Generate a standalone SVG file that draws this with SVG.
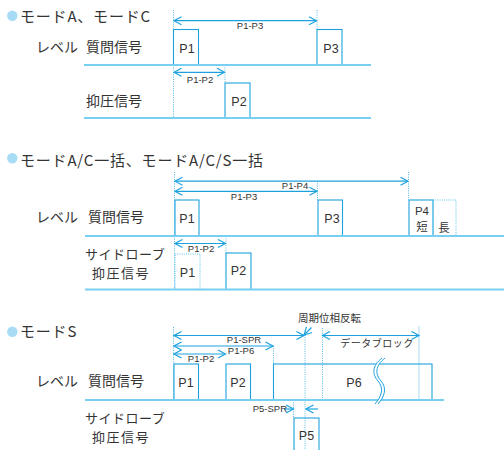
<svg xmlns="http://www.w3.org/2000/svg" width="504" height="450" viewBox="0 0 504 450">
<defs>
<marker id="ah" viewBox="-1 -5 10 10" refX="7.5" refY="0" markerWidth="10" markerHeight="10" markerUnits="userSpaceOnUse" orient="auto-start-reverse">
<path d="M0,-4 L7.5,0 L0,4" fill="none" stroke="#1ea2df" stroke-width="1.2"/>
</marker>
</defs>
<style>
.jp{font-family:"Noto Sans CJK JP","Noto Sans",sans-serif;fill:#333;}
.ttl{font-size:15px;letter-spacing:0.8px;}
.lbl{font-size:14px;}
.lbs{font-size:13px;letter-spacing:0.5px;}
.lbs2{font-size:13px;letter-spacing:1.5px;}
.p{font-family:"Liberation Sans",Arial,sans-serif;font-size:12.5px;fill:#333;text-anchor:middle;}
.al{font-family:"Liberation Sans",Arial,sans-serif;font-size:9.5px;fill:#333;text-anchor:middle;}
.box{fill:none;stroke:#1ea2df;stroke-width:1.1;}
.dbox{fill:none;stroke:#5cc3ee;stroke-width:1;stroke-dasharray:1 1.2;}
.lvl{fill:none;stroke:#78cff2;stroke-width:1.8;}
.dot{fill:none;stroke:#3fb2e6;stroke-width:0.9;stroke-dasharray:1 1.3;}
.arr{fill:none;stroke:#1ea2df;stroke-width:1.2;}
.bul{fill:#a8dcf6;}
</style>

<g id="connectors">
<!-- section 1 -->
<path class="dot" d="M173.5,10 V118 M317,10 V30 M225,65 V83"/>
<path class="arr" d="M174,20.7 H316.5" marker-start="url(#ah)" marker-end="url(#ah)"/>
<path class="arr" d="M174,72.3 H224.5" marker-start="url(#ah)" marker-end="url(#ah)"/>
<!-- section 2 -->
<path class="dot" d="M174.5,172 V290 M408.5,172 V200 M317.5,181 V200 M226,236 V253"/>
<path class="arr" d="M175,181.2 H408" marker-start="url(#ah)" marker-end="url(#ah)"/>
<path class="arr" d="M175,191.3 H317" marker-start="url(#ah)" marker-end="url(#ah)"/>
<path class="arr" d="M175,243.5 H225.5" marker-start="url(#ah)" marker-end="url(#ah)"/>
<!-- section 3 -->
<path class="dot" d="M173.5,327 V400 M305,335 V450 M322.5,328 V400 M273.5,346 V364 M293.5,400 V418"/>
<path d="M419,326 V400" fill="none" stroke="#8fd6f3" stroke-width="0.8"/>
<path class="arr" d="M174,335.5 H304" marker-start="url(#ah)" marker-end="url(#ah)"/>
<path class="arr" d="M174,346 H273" marker-start="url(#ah)" marker-end="url(#ah)"/>
<path class="arr" d="M174,354 H225.5" marker-start="url(#ah)" marker-end="url(#ah)"/>
<path class="arr" d="M322.5,335.5 H419" marker-start="url(#ah)" marker-end="url(#ah)"/>
<path class="arr" d="M311.5,327.5 L304,335" marker-end="url(#ah)"/>
<path class="arr" d="M284,409 H293.5" marker-end="url(#ah)"/>
<path class="arr" d="M318,409 H306" marker-end="url(#ah)"/>
</g>

<g id="section1">
<circle class="bul" cx="12.3" cy="15.8" r="5.2"/>
<text class="jp ttl" x="20" y="21.5">モードA、モードC</text>
<text class="jp lbl" x="36" y="52">レベル</text>
<text class="jp lbl" x="86" y="52">質問信号</text>
<text class="jp lbl" x="86" y="106">抑圧信号</text>
<text class="al" x="250" y="29.3">P1-P3</text>
<text class="al" x="200" y="82.5">P1-P2</text>
<g id="s1-p1"><rect class="box" x="173.5" y="29.5" width="25" height="35.5"/><text class="p" x="187" y="52.5">P1</text></g>
<g id="s1-p3"><rect class="box" x="317" y="29.5" width="25" height="35.5"/><text class="p" x="331" y="52.5">P3</text></g>
<g id="s1-p2"><rect class="box" x="225" y="83" width="25" height="35"/><text class="p" x="239" y="106">P2</text></g>
<path class="lvl" d="M84,65 H371 M84,118 H371"/>
</g>

<g id="section2">
<circle class="bul" cx="12.3" cy="158.3" r="5.2"/>
<text class="jp ttl" x="20" y="166">モードA/C一括、モードA/C/S一括</text>
<text class="jp lbl" x="36" y="222">レベル</text>
<text class="jp lbl" x="88" y="222">質問信号</text>
<text class="jp lbs" x="85" y="259">サイドローブ</text>
<text class="jp lbs2" x="92" y="278">抑圧信号</text>
<text class="al" x="295" y="189.3">P1-P4</text>
<text class="al" x="244" y="199.5">P1-P3</text>
<text class="al" x="201" y="252.3">P1-P2</text>
<g id="s2-p1"><rect class="box" x="175" y="200" width="24" height="36"/><text class="p" x="187" y="223">P1</text></g>
<g id="s2-p3"><rect class="box" x="318" y="200" width="24.5" height="36"/><text class="p" x="332" y="223">P3</text></g>
<g id="s2-p4"><rect class="box" x="409" y="200" width="24" height="36"/><text class="p" x="422" y="215" style="font-size:11.5px">P4</text><text class="jp" x="422" y="231" style="font-size:11.5px" text-anchor="middle">短</text></g>
<g id="s2-long"><rect class="dbox" x="433" y="200" width="23" height="36"/><text class="jp" x="444" y="232" style="font-size:11.5px" text-anchor="middle">長</text></g>
<g id="s2-p1s"><rect class="dbox" x="175" y="254" width="25" height="35.5"/><text class="p" x="187.5" y="276.5">P1</text></g>
<g id="s2-p2"><rect class="box" x="226" y="253" width="25" height="36.5"/><text class="p" x="238.5" y="275">P2</text></g>
<path class="lvl" d="M85,236 H504 M85,289.5 H504"/>
</g>

<g id="section3">
<circle class="bul" cx="12.3" cy="331.7" r="5.2"/>
<text class="jp ttl" x="20" y="337.3">モードS</text>
<text class="jp" x="298" y="322" style="font-size:10.5px">周期位相反転</text>
<text class="jp lbl" x="36" y="386">レベル</text>
<text class="jp lbl" x="88" y="386">質問信号</text>
<text class="jp lbs" x="85" y="423">サイドローブ</text>
<text class="jp lbs2" x="92" y="442">抑圧信号</text>
<text class="al" x="244" y="343.3">P1-SPR</text>
<text class="al" x="241" y="353.5">P1-P6</text>
<text class="al" x="201" y="362">P1-P2</text>
<text class="jp" x="377" y="347" style="font-size:10px;letter-spacing:0.5px" text-anchor="middle">データブロック</text>
<text class="al" x="287" y="412" style="text-anchor:end">P5-SPR</text>
<g id="s3-p1"><rect class="box" x="174" y="364" width="24.5" height="36"/><text class="p" x="186" y="387">P1</text></g>
<g id="s3-p2"><rect class="box" x="226" y="364" width="24.5" height="36"/><text class="p" x="238" y="387">P2</text></g>
<g id="s3-p6"><rect class="box" x="273.5" y="364" width="158.5" height="36"/><text class="p" x="354" y="387">P6</text></g>
<path class="lvl" d="M85,400 H444"/>
<g id="s3-break">
<path d="M382,358 C372,366 372,374 378,381 C384,388 382,396 375,404 L378,404 C385,396 387,388 381,381 C375,374 375,366 385,358 Z" fill="#fff"/>
<path d="M382,358 C372,366 372,374 378,381 C384,388 382,396 375,404 M385,358 C375,366 375,374 381,381 C387,388 385,396 378,404" fill="none" stroke="#1ea2df" stroke-width="1"/>
</g>
<g id="s3-p5"><rect class="box" x="294" y="418" width="25" height="40"/><text class="p" x="306.5" y="440">P5</text></g>
</g>
</svg>
